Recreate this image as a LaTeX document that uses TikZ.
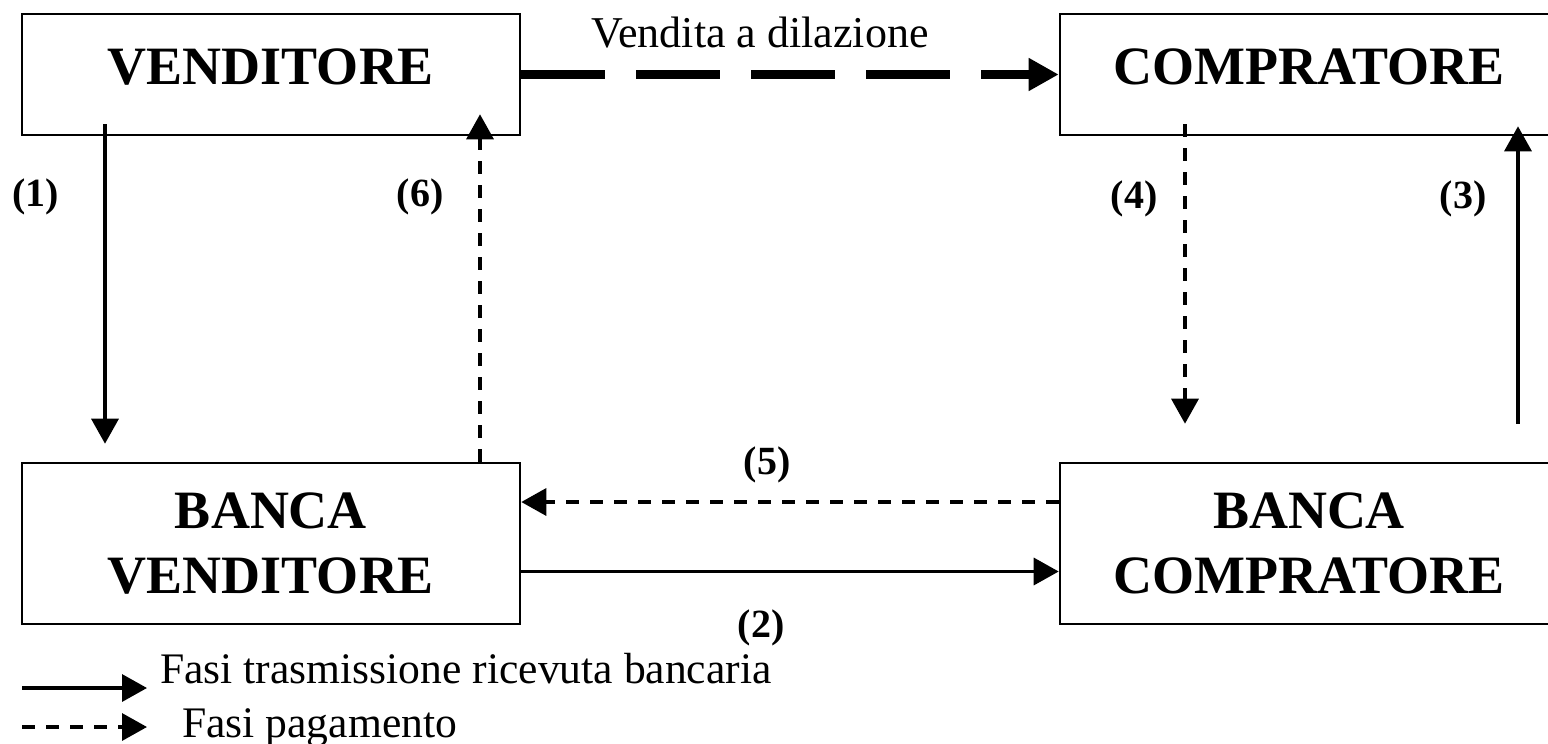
\documentclass[tikz,border=0pt]{standalone}
\usepackage{fontspec}
\setmainfont{Liberation Serif}
\usetikzlibrary{arrows.meta}

\tikzset{
  topbox/.style={draw, line width=2.6pt, inner sep=0pt,
    minimum width=498pt, minimum height=121pt, text depth=16pt,
    font=\fontsize{54}{65}\selectfont\bfseries},
  bankbox/.style={draw, line width=2.6pt, inner sep=0pt, align=center,
    minimum width=498pt, minimum height=161pt,
    font=\fontsize{54}{65}\selectfont\bfseries},
  lab/.style={inner sep=0pt, font=\fontsize{40}{48}\selectfont\bfseries},
  plain/.style={inner sep=0pt, font=\fontsize{43.6}{50}\selectfont},
  sol/.style={line width=3.4pt, -{Triangle[length=25pt,width=27pt]}},
  dsh/.style={sol, dash pattern=on 13pt off 11pt},
  dil/.style={line width=9.5pt, dash pattern=on 84pt off 31pt,
    -{Triangle[length=30pt,width=31pt]}}
}

\begin{document}
\begin{tikzpicture}[x=1pt, y=-1pt]
  \useasboundingbox (0,0) rectangle (1548,744);
  \fill[white] (0,0) rectangle (1548,744);
  \clip (0,0) rectangle (1548,744);

  % parties and banks
  \node[topbox]  (V)  at (271,74.5)   {VENDITORE};
  \node[topbox]  (C)  at (1309,74.5)  {COMPRATORE};
  \node[bankbox] (BV) at (271,543.5)  {BANCA\\VENDITORE};
  \node[bankbox] (BC) at (1309,543.5) {BANCA\\COMPRATORE};

  % deferred sale
  \draw[dil] (V.east) -- (C.west);
  \node[plain, font=\fontsize{44}{50}\selectfont, anchor=base] (vd) at (760,47) {Vendita a dilazione};

  % flows
  \draw[sol] ([xshift=-166pt,yshift=12pt]V.south) -- ([xshift=-166pt,yshift=18pt]BV.north);
  \draw[dsh] ([xshift=209pt]BV.north) -- ([xshift=209pt,yshift=22pt]V.south);
  \draw[dsh] ([xshift=-124pt,yshift=12pt]C.south) -- ([xshift=-124pt,yshift=38pt]BC.north);
  \draw[sol] ([xshift=209pt,yshift=38pt]BC.north) -- ([xshift=209pt,yshift=10pt]C.south);
  \draw[dsh] ([yshift=41.5pt]BC.west) -- ([yshift=41.5pt]BV.east);
  \draw[sol] ([yshift=-28pt]BV.east) -- ([yshift=-28pt]BC.west);

  % step numbers
  \node[lab] (n1) at (36,197)   {(1)};
  \node[lab] (n6) at (420,197)  {(6)};
  \node[lab] (n4) at (1134,199) {(4)};
  \node[lab] (n3) at (1463,199) {(3)};
  \node[lab] (n5) at (767,465)  {(5)};
  \node[lab] (n2) at (761,628)  {(2)};

  % legend
  \coordinate (l1s) at (22,688);
  \coordinate (l1e) at (147,688);
  \coordinate (l2s) at (22,727);
  \coordinate (l2e) at (147,727);
  \draw[sol] (l1s) -- (l1e);
  \draw[dsh] (l2s) -- (l2e);
  \node[plain, anchor=base west] (t1) at (160,683) {Fasi trasmissione ricevuta bancaria};
  \node[plain, anchor=base west] (t2) at (182,737) {Fasi pagamento};
\end{tikzpicture}
\end{document}
